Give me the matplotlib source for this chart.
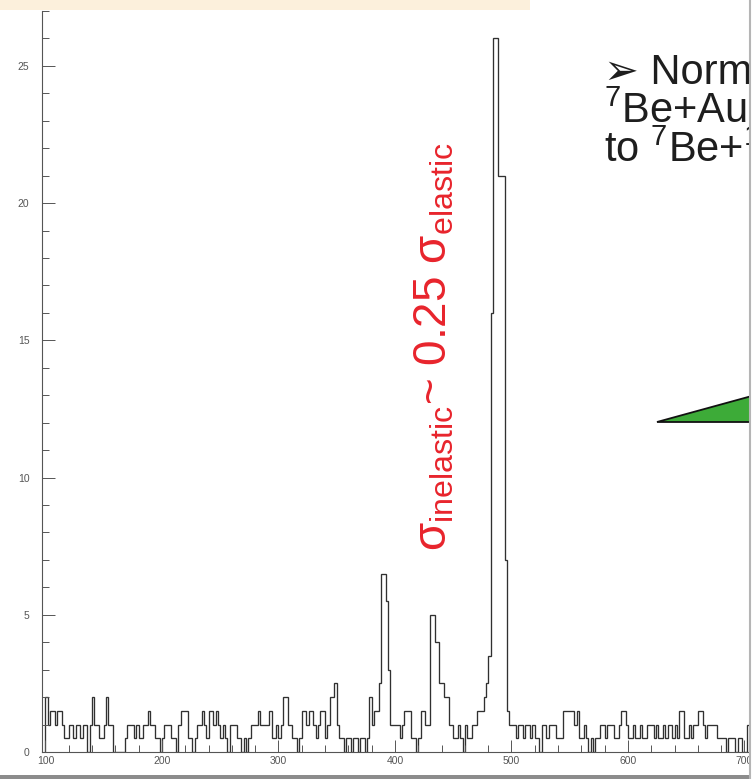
import numpy as np
import matplotlib
matplotlib.use('Agg')
import matplotlib.pyplot as plt
from matplotlib.patches import Polygon, Rectangle

# counts per 2-unit bin, in units of 0.5 (histogram weight 0.5)
bins_100 = [4, 2, 3, 3, 2, 3, 3, 2, 1, 1, 2, 2, 1, 2, 2, 1, 2, 2, 0, 2, 4, 2, 2, 1, 1]
bins_150 = [2, 4, 2, 2, 0, 0, 0, 0, 0, 1, 2, 2, 2, 1, 2, 1, 1, 2, 2, 3, 2, 2, 1, 1, 0]
bins_200 = [1, 2, 2, 2, 1, 1, 0, 2, 3, 3, 3, 1, 1, 0, 1, 2, 2, 3, 2, 1, 3, 3, 2, 3, 2]
bins_250 = [1, 2, 1, 0, 2, 2, 2, 1, 1, 0, 1, 0, 1, 2, 2, 2, 3, 2, 2, 2, 2, 3, 1, 1, 2]
bins_300 = [1, 2, 4, 4, 2, 2, 1, 1, 0, 1, 3, 3, 2, 3, 3, 2, 1, 2, 3, 3, 1, 2, 4, 4, 5]
bins_350 = [2, 1, 1, 0, 1, 1, 0, 1, 1, 0, 1, 1, 0, 1, 4, 2, 3, 3, 5, 13, 13, 11, 6, 2, 2]
bins_400 = [2, 2, 1, 2, 3, 3, 3, 1, 1, 0, 1, 3, 3, 2, 2, 10, 10, 8, 8, 5, 5, 4, 4, 2, 2]
bins_450 = [1, 1, 2, 1, 0, 2, 1, 1, 2, 2, 3, 3, 3, 4, 5, 7, 32, 52, 52, 42, 42, 42, 14, 3, 2]
bins_500 = [2, 2, 1, 2, 2, 1, 2, 2, 1, 2, 1, 1, 0, 2, 2, 1, 2, 2, 2, 1, 1, 1, 3, 3, 3]
bins_550 = [3, 3, 2, 3, 1, 1, 2, 1, 0, 1, 0, 1, 1, 2, 2, 1, 2, 2, 2, 1, 1, 2, 3, 3, 2]
bins_600 = [1, 1, 2, 1, 1, 2, 1, 1, 2, 2, 2, 1, 2, 1, 1, 2, 1, 2, 2, 1, 2, 1, 3, 3, 1]
bins_650 = [1, 2, 1, 2, 2, 3, 3, 2, 1, 2, 2, 2, 2, 1, 1, 1, 1, 0, 1, 1, 1, 0, 1, 1, 0]
bins_700 = [0, 2, 2, 1, 1]

counts = (bins_100 + bins_150 + bins_200 + bins_250 + bins_300 + bins_350 + bins_400
          + bins_450 + bins_500 + bins_550 + bins_600 + bins_650 + bins_700)
values = np.array(counts) * 0.5
edges = np.arange(100, 100 + 2 * len(counts) + 1, 2)

W, H = 754, 779


def fx(px):
    return px / W


def fy(py):
    return 1 - py / H


plt.rcParams['mathtext.fontset'] = 'custom'
plt.rcParams['mathtext.rm'] = 'Liberation Sans'
plt.rcParams['mathtext.it'] = 'Liberation Sans:italic'
plt.rcParams['mathtext.bf'] = 'Liberation Sans:bold'

fig = plt.figure(figsize=(W / 100, H / 100), dpi=100)
ax = fig.add_axes([fx(42), fy(752), 819 / W, (752 - 11) / H])
ax.stairs(values, edges, color='#303030', lw=0.95)
ax.set_xlim(97, 800)
ax.set_ylim(0, 27)

for s in ['top', 'right']:
    ax.spines[s].set_visible(False)
for s in ['left', 'bottom']:
    ax.spines[s].set_color('#555555')
    ax.spines[s].set_linewidth(0.8)

ax.set_xticks(np.arange(100, 801, 100))
ax.set_xticks(np.arange(100, 801, 20), minor=True)
ax.set_yticks(np.arange(0, 26, 5))
ax.set_yticks(np.arange(0, 28, 1), minor=True)
ax.tick_params(which='both', direction='in', color='#555555', width=0.7,
               labelsize=7.5, labelcolor='#555555')
ax.tick_params(which='major', length=9)
ax.tick_params(which='minor', length=5)
ax.tick_params(axis='x', pad=3)
ax.tick_params(axis='y', pad=9)
for lab in ax.get_xticklabels() + ax.get_yticklabels():
    lab.set_family('Liberation Sans')

# slide decorations
fig.add_artist(Rectangle((0, fy(10)), fx(530), 10 / H, transform=fig.transFigure,
                         facecolor='#fcf0dc', edgecolor='none', zorder=5))
fig.add_artist(Rectangle((0, 0), 1, 4 / H, transform=fig.transFigure,
                         facecolor='#8c8c8c', edgecolor='none', zorder=5))

# green arrow
tri = Polygon([(fx(657), fy(422)), (fx(770), fy(391)), (fx(770), fy(422))],
              closed=True, transform=fig.transFigure, facecolor='#3dab38',
              edgecolor='#111111', lw=1.3, zorder=4)
fig.add_artist(tri)

# red annotation
fig.text(fx(434), fy(347),
         r'σ$_{\mathrm{inelastic}}$~ 0.25 σ$_{\mathrm{elastic}}$',
         rotation=90, ha='center', va='center', color='#e8242c',
         fontsize=33, family=['Liberation Sans', 'DejaVu Sans'], zorder=4)

# right text box
box_lines = ['➢ Normalized', r'$^{7}$Be+Au inelastic', r'to $^{7}$Be+$^{197}$Au']
box_y = [84, 123, 162]
for line, y in zip(box_lines, box_y):
    fig.text(fx(604), fy(y), line, ha='left', va='baseline', color='#1e1e1e',
             fontsize=30, family=['Liberation Sans', 'DejaVu Sans'], zorder=4)

# the box edge crops everything on the right
fig.add_artist(Rectangle((fx(750.5), 0), 1, 1, transform=fig.transFigure,
                         facecolor='white', edgecolor='none', zorder=10))
fig.add_artist(plt.Line2D([fx(750), fx(750)], [fy(779), fy(0)], transform=fig.transFigure,
                          color='#b5b5b5', lw=1.5, zorder=11))

fig.savefig('out.png', dpi=100)
